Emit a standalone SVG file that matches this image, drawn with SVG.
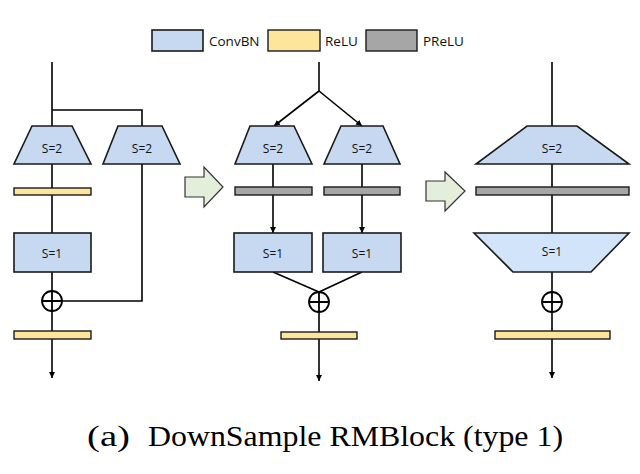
<svg xmlns="http://www.w3.org/2000/svg" width="640" height="474" viewBox="0 0 640 474">
<defs>
<marker id="ah" viewBox="0 0 10 10" refX="10" refY="5" markerWidth="6" markerHeight="6" markerUnits="userSpaceOnUse" orient="auto"><path d="M0,0 L10,5 L0,10 Z" fill="#000"/></marker>
<style>
.conv{fill:#c6d9f0;stroke:#1a1a1a;stroke-width:1.6}
.conv2{fill:#d2e4f9;stroke:#1a1a1a;stroke-width:1.6}
.relu{fill:#fde69b;stroke:#1a1a1a;stroke-width:1.4}
.prelu{fill:#a6a6a6;stroke:#1a1a1a;stroke-width:1.4}
.ln{fill:none;stroke:#000;stroke-width:1.6}
.add{fill:none;stroke:#000;stroke-width:1.8}
.big{fill:#e3eedb;stroke:#333;stroke-width:1.2}
.lbl{font-family:"Open Sans","Liberation Sans",sans-serif;font-size:12px;fill:#111;text-anchor:middle}
.leg{font-family:"Open Sans","Liberation Sans",sans-serif;font-size:13.5px;fill:#111}
.cap{font-family:"Liberation Serif",serif;font-size:29px;fill:#000}
</style>
</defs>
<rect width="640" height="474" fill="#fff"/>

<g id="legend">
<rect class="conv" x="152" y="30" width="51" height="21"/>
<text class="leg" x="209" y="46">ConvBN</text>
<rect class="relu" x="268" y="30" width="52" height="21"/>
<text class="leg" x="325" y="46">ReLU</text>
<rect class="prelu" x="366" y="30" width="51" height="21"/>
<text class="leg" x="423" y="46">PReLU</text>
</g>

<g id="connectors">
<path class="ln" d="M52,62 V126 M52,110 H142 V126"/>
<path class="ln" d="M52,164 V233 M142,164 V301 H62 M52,272 V291 M52,311 V331"/>
<path class="ln" d="M52,339 V378" marker-end="url(#ah)"/>
<path class="ln" d="M319,62 V91"/>
<path class="ln" d="M319,91 L274,126" marker-end="url(#ah)"/>
<path class="ln" d="M319,91 L362,126" marker-end="url(#ah)"/>
<path class="ln" d="M273,164 V187 M362,164 V187"/>
<path class="ln" d="M273,195 V233" marker-end="url(#ah)"/>
<path class="ln" d="M362,195 V233" marker-end="url(#ah)"/>
<path class="ln" d="M273,272 L319,292 M362,272 L319,292 M319,312 V332"/>
<path class="ln" d="M319,339 V381" marker-end="url(#ah)"/>
<path class="ln" d="M552,62 V126 M552,164 V233 M552,272 V292 M552,312 V331"/>
<path class="ln" d="M552,339 V378" marker-end="url(#ah)"/>
</g>

<g id="left-s2a">
<polygon class="conv" points="32,126 72,126 91,164 14,164"/>
<text class="lbl" x="52" y="153">S=2</text>
</g>
<g id="left-s2b">
<polygon class="conv" points="118,126 162,126 180,164 103,164"/>
<text class="lbl" x="142" y="153">S=2</text>
</g>
<g id="left-relu1"><rect class="relu" x="14" y="188" width="77" height="7"/></g>
<g id="left-s1">
<rect class="conv" x="14" y="233" width="77" height="39"/>
<text class="lbl" x="52" y="258">S=1</text>
</g>
<g id="left-add">
<circle class="add" cx="52" cy="301" r="10"/>
<path class="add" d="M42,301 H62 M52,291 V311"/>
</g>
<g id="left-relu2"><rect class="relu" x="14" y="331" width="77" height="8"/></g>

<g id="arrow1"><polygon class="big" points="185,177 204,177 204,167 223,187 204,207 204,197 185,197"/></g>

<g id="mid-s2a">
<polygon class="conv" points="250,126 294,126 312,164 235,164"/>
<text class="lbl" x="273" y="153">S=2</text>
</g>
<g id="mid-s2b">
<polygon class="conv" points="341,126 383,126 400,164 324,164"/>
<text class="lbl" x="362" y="153">S=2</text>
</g>
<g id="mid-prelu1"><rect class="prelu" x="235" y="187" width="77" height="8"/></g>
<g id="mid-prelu2"><rect class="prelu" x="324" y="187" width="76" height="8"/></g>
<g id="mid-s1a">
<rect class="conv" x="234" y="233" width="78" height="39"/>
<text class="lbl" x="273" y="258">S=1</text>
</g>
<g id="mid-s1b">
<rect class="conv" x="323" y="233" width="78" height="39"/>
<text class="lbl" x="362" y="258">S=1</text>
</g>
<g id="mid-add">
<circle class="add" cx="319" cy="302" r="10"/>
<path class="add" d="M309,302 H329 M319,292 V312"/>
</g>
<g id="mid-relu"><rect class="relu" x="281" y="332" width="76" height="7"/></g>

<g id="arrow2"><polygon class="big" points="426,181 445,181 445,172 465,191 445,211 445,201 426,201"/></g>

<g id="right-s2">
<polygon class="conv" points="527,126 577,126 629,164 476,164"/>
<text class="lbl" x="552" y="153">S=2</text>
</g>
<g id="right-prelu"><rect class="prelu" x="476" y="187" width="153" height="8"/></g>
<g id="right-s1">
<polygon class="conv2" points="474,233 629,233 591,272 513,272"/>
<text class="lbl" x="552" y="256">S=1</text>
</g>
<g id="right-add">
<circle class="add" cx="552" cy="302" r="10"/>
<path class="add" d="M542,302 H562 M552,292 V312"/>
</g>
<g id="right-relu"><rect class="relu" x="495" y="331" width="115" height="8"/></g>

<text class="cap" x="87" y="446" textLength="43" lengthAdjust="spacingAndGlyphs">(a)</text>
<text class="cap" x="148" y="446" textLength="415" lengthAdjust="spacingAndGlyphs">DownSample RMBlock (type 1)</text>
</svg>
